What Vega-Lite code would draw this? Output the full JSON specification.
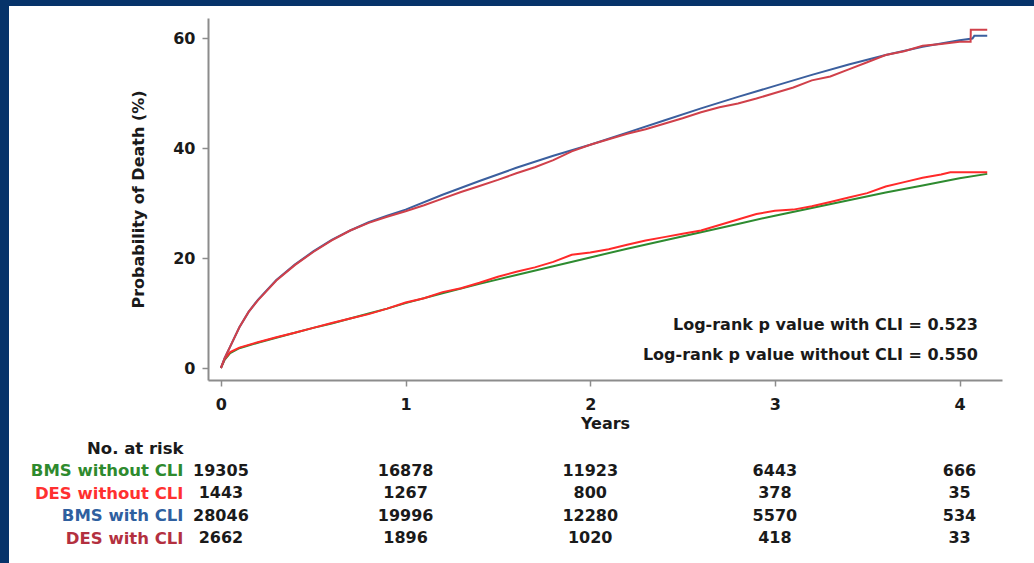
{
  "$schema": "https://vega.github.io/schema/vega-lite/v6.json",
  "background": "#06336a",
  "padding": {"left": 9, "top": 6, "right": 0, "bottom": 0},
  "autosize": {"type": "pad"},
  "bounds": "flush",
  "spacing": 57,
  "config": {"font": "DejaVu Sans", "view": {"stroke": null}},
  "datasets": {
    "curves": [
      {"group": "BMS without CLI", "years": 0, "pct": 0},
      {"group": "BMS without CLI", "years": 0.02, "pct": 1.5},
      {"group": "BMS without CLI", "years": 0.05, "pct": 2.7},
      {"group": "BMS without CLI", "years": 0.1, "pct": 3.6},
      {"group": "BMS without CLI", "years": 0.2, "pct": 4.6},
      {"group": "BMS without CLI", "years": 0.3, "pct": 5.5},
      {"group": "BMS without CLI", "years": 0.4, "pct": 6.4},
      {"group": "BMS without CLI", "years": 0.5, "pct": 7.3},
      {"group": "BMS without CLI", "years": 0.6, "pct": 8.1},
      {"group": "BMS without CLI", "years": 0.7, "pct": 9.0},
      {"group": "BMS without CLI", "years": 0.8, "pct": 9.9},
      {"group": "BMS without CLI", "years": 0.9, "pct": 10.8},
      {"group": "BMS without CLI", "years": 1.0, "pct": 11.8},
      {"group": "BMS without CLI", "years": 1.2, "pct": 13.6},
      {"group": "BMS without CLI", "years": 1.4, "pct": 15.3},
      {"group": "BMS without CLI", "years": 1.6, "pct": 16.9},
      {"group": "BMS without CLI", "years": 1.8, "pct": 18.5},
      {"group": "BMS without CLI", "years": 2.0, "pct": 20.1},
      {"group": "BMS without CLI", "years": 2.2, "pct": 21.7},
      {"group": "BMS without CLI", "years": 2.4, "pct": 23.2},
      {"group": "BMS without CLI", "years": 2.6, "pct": 24.7},
      {"group": "BMS without CLI", "years": 2.8, "pct": 26.2},
      {"group": "BMS without CLI", "years": 3.0, "pct": 27.7},
      {"group": "BMS without CLI", "years": 3.2, "pct": 29.1},
      {"group": "BMS without CLI", "years": 3.4, "pct": 30.5},
      {"group": "BMS without CLI", "years": 3.6, "pct": 31.9},
      {"group": "BMS without CLI", "years": 3.8, "pct": 33.2},
      {"group": "BMS without CLI", "years": 4.0, "pct": 34.5},
      {"group": "BMS without CLI", "years": 4.15, "pct": 35.3},
      {"group": "DES without CLI", "years": 0, "pct": 0},
      {"group": "DES without CLI", "years": 0.02, "pct": 1.6},
      {"group": "DES without CLI", "years": 0.05, "pct": 2.9},
      {"group": "DES without CLI", "years": 0.1, "pct": 3.7},
      {"group": "DES without CLI", "years": 0.2, "pct": 4.7},
      {"group": "DES without CLI", "years": 0.3, "pct": 5.6},
      {"group": "DES without CLI", "years": 0.4, "pct": 6.4},
      {"group": "DES without CLI", "years": 0.5, "pct": 7.3},
      {"group": "DES without CLI", "years": 0.6, "pct": 8.2},
      {"group": "DES without CLI", "years": 0.7, "pct": 9.0},
      {"group": "DES without CLI", "years": 0.8, "pct": 9.8},
      {"group": "DES without CLI", "years": 0.9, "pct": 10.8},
      {"group": "DES without CLI", "years": 1.0, "pct": 11.9},
      {"group": "DES without CLI", "years": 1.1, "pct": 12.7},
      {"group": "DES without CLI", "years": 1.2, "pct": 13.8},
      {"group": "DES without CLI", "years": 1.3, "pct": 14.5},
      {"group": "DES without CLI", "years": 1.4, "pct": 15.5},
      {"group": "DES without CLI", "years": 1.5, "pct": 16.6},
      {"group": "DES without CLI", "years": 1.6, "pct": 17.5},
      {"group": "DES without CLI", "years": 1.7, "pct": 18.3},
      {"group": "DES without CLI", "years": 1.8, "pct": 19.3},
      {"group": "DES without CLI", "years": 1.9, "pct": 20.6},
      {"group": "DES without CLI", "years": 2.0, "pct": 21.0},
      {"group": "DES without CLI", "years": 2.1, "pct": 21.6},
      {"group": "DES without CLI", "years": 2.2, "pct": 22.4},
      {"group": "DES without CLI", "years": 2.3, "pct": 23.2},
      {"group": "DES without CLI", "years": 2.4, "pct": 23.8},
      {"group": "DES without CLI", "years": 2.5, "pct": 24.4},
      {"group": "DES without CLI", "years": 2.6, "pct": 25.0},
      {"group": "DES without CLI", "years": 2.7, "pct": 26.0},
      {"group": "DES without CLI", "years": 2.8, "pct": 27.0},
      {"group": "DES without CLI", "years": 2.9, "pct": 28.0},
      {"group": "DES without CLI", "years": 3.0, "pct": 28.6},
      {"group": "DES without CLI", "years": 3.1, "pct": 28.8},
      {"group": "DES without CLI", "years": 3.2, "pct": 29.4},
      {"group": "DES without CLI", "years": 3.3, "pct": 30.2},
      {"group": "DES without CLI", "years": 3.4, "pct": 31.0},
      {"group": "DES without CLI", "years": 3.5, "pct": 31.8},
      {"group": "DES without CLI", "years": 3.6, "pct": 33.0},
      {"group": "DES without CLI", "years": 3.7, "pct": 33.8},
      {"group": "DES without CLI", "years": 3.8, "pct": 34.6},
      {"group": "DES without CLI", "years": 3.9, "pct": 35.2},
      {"group": "DES without CLI", "years": 3.95, "pct": 35.6},
      {"group": "DES without CLI", "years": 4.15, "pct": 35.6},
      {"group": "BMS with CLI", "years": 0, "pct": 0},
      {"group": "BMS with CLI", "years": 0.02, "pct": 1.8},
      {"group": "BMS with CLI", "years": 0.05, "pct": 3.9},
      {"group": "BMS with CLI", "years": 0.1, "pct": 7.4},
      {"group": "BMS with CLI", "years": 0.15, "pct": 10.2},
      {"group": "BMS with CLI", "years": 0.2, "pct": 12.4},
      {"group": "BMS with CLI", "years": 0.3, "pct": 16.0},
      {"group": "BMS with CLI", "years": 0.4, "pct": 18.8},
      {"group": "BMS with CLI", "years": 0.5, "pct": 21.2},
      {"group": "BMS with CLI", "years": 0.6, "pct": 23.3},
      {"group": "BMS with CLI", "years": 0.7, "pct": 25.0},
      {"group": "BMS with CLI", "years": 0.8, "pct": 26.5},
      {"group": "BMS with CLI", "years": 0.9, "pct": 27.7},
      {"group": "BMS with CLI", "years": 1.0, "pct": 28.8},
      {"group": "BMS with CLI", "years": 1.2, "pct": 31.5},
      {"group": "BMS with CLI", "years": 1.4, "pct": 34.0},
      {"group": "BMS with CLI", "years": 1.6, "pct": 36.4},
      {"group": "BMS with CLI", "years": 1.8, "pct": 38.6},
      {"group": "BMS with CLI", "years": 2.0, "pct": 40.6},
      {"group": "BMS with CLI", "years": 2.2, "pct": 42.8},
      {"group": "BMS with CLI", "years": 2.4, "pct": 45.0},
      {"group": "BMS with CLI", "years": 2.6, "pct": 47.2},
      {"group": "BMS with CLI", "years": 2.8, "pct": 49.3},
      {"group": "BMS with CLI", "years": 3.0, "pct": 51.3},
      {"group": "BMS with CLI", "years": 3.2, "pct": 53.3},
      {"group": "BMS with CLI", "years": 3.4, "pct": 55.2},
      {"group": "BMS with CLI", "years": 3.6, "pct": 56.9},
      {"group": "BMS with CLI", "years": 3.8, "pct": 58.4},
      {"group": "BMS with CLI", "years": 4.0, "pct": 59.6},
      {"group": "BMS with CLI", "years": 4.07, "pct": 59.9},
      {"group": "BMS with CLI", "years": 4.08, "pct": 60.4},
      {"group": "BMS with CLI", "years": 4.15, "pct": 60.4},
      {"group": "DES with CLI", "years": 0, "pct": 0},
      {"group": "DES with CLI", "years": 0.02, "pct": 1.8},
      {"group": "DES with CLI", "years": 0.05, "pct": 3.9},
      {"group": "DES with CLI", "years": 0.1, "pct": 7.4},
      {"group": "DES with CLI", "years": 0.15, "pct": 10.2},
      {"group": "DES with CLI", "years": 0.2, "pct": 12.3},
      {"group": "DES with CLI", "years": 0.3, "pct": 15.9},
      {"group": "DES with CLI", "years": 0.4, "pct": 18.7},
      {"group": "DES with CLI", "years": 0.5, "pct": 21.1},
      {"group": "DES with CLI", "years": 0.6, "pct": 23.2},
      {"group": "DES with CLI", "years": 0.7, "pct": 25.0},
      {"group": "DES with CLI", "years": 0.8, "pct": 26.4},
      {"group": "DES with CLI", "years": 0.9, "pct": 27.5},
      {"group": "DES with CLI", "years": 1.0, "pct": 28.5},
      {"group": "DES with CLI", "years": 1.1, "pct": 29.6},
      {"group": "DES with CLI", "years": 1.2, "pct": 30.8},
      {"group": "DES with CLI", "years": 1.3, "pct": 32.0},
      {"group": "DES with CLI", "years": 1.4, "pct": 33.1},
      {"group": "DES with CLI", "years": 1.5, "pct": 34.2},
      {"group": "DES with CLI", "years": 1.6, "pct": 35.4},
      {"group": "DES with CLI", "years": 1.7, "pct": 36.5},
      {"group": "DES with CLI", "years": 1.8, "pct": 37.8},
      {"group": "DES with CLI", "years": 1.9, "pct": 39.4},
      {"group": "DES with CLI", "years": 2.0, "pct": 40.6},
      {"group": "DES with CLI", "years": 2.1, "pct": 41.6},
      {"group": "DES with CLI", "years": 2.2, "pct": 42.6},
      {"group": "DES with CLI", "years": 2.3, "pct": 43.4},
      {"group": "DES with CLI", "years": 2.4, "pct": 44.4},
      {"group": "DES with CLI", "years": 2.5, "pct": 45.4},
      {"group": "DES with CLI", "years": 2.6, "pct": 46.5},
      {"group": "DES with CLI", "years": 2.7, "pct": 47.4},
      {"group": "DES with CLI", "years": 2.8, "pct": 48.1},
      {"group": "DES with CLI", "years": 2.9, "pct": 49.0},
      {"group": "DES with CLI", "years": 3.0, "pct": 50.0},
      {"group": "DES with CLI", "years": 3.1, "pct": 51.0},
      {"group": "DES with CLI", "years": 3.2, "pct": 52.3},
      {"group": "DES with CLI", "years": 3.3, "pct": 53.0},
      {"group": "DES with CLI", "years": 3.4, "pct": 54.3},
      {"group": "DES with CLI", "years": 3.5, "pct": 55.6},
      {"group": "DES with CLI", "years": 3.6, "pct": 56.9},
      {"group": "DES with CLI", "years": 3.7, "pct": 57.6},
      {"group": "DES with CLI", "years": 3.8, "pct": 58.6},
      {"group": "DES with CLI", "years": 3.9, "pct": 58.9},
      {"group": "DES with CLI", "years": 4.0, "pct": 59.3},
      {"group": "DES with CLI", "years": 4.06, "pct": 59.3},
      {"group": "DES with CLI", "years": 4.061, "pct": 61.5},
      {"group": "DES with CLI", "years": 4.15, "pct": 61.5}
    ],
    "risk": [
      {"group": "BMS without CLI", "year": 0, "n": 19305},
      {"group": "BMS without CLI", "year": 1, "n": 16878},
      {"group": "BMS without CLI", "year": 2, "n": 11923},
      {"group": "BMS without CLI", "year": 3, "n": 6443},
      {"group": "BMS without CLI", "year": 4, "n": 666},
      {"group": "DES without CLI", "year": 0, "n": 1443},
      {"group": "DES without CLI", "year": 1, "n": 1267},
      {"group": "DES without CLI", "year": 2, "n": 800},
      {"group": "DES without CLI", "year": 3, "n": 378},
      {"group": "DES without CLI", "year": 4, "n": 35},
      {"group": "BMS with CLI", "year": 0, "n": 28046},
      {"group": "BMS with CLI", "year": 1, "n": 19996},
      {"group": "BMS with CLI", "year": 2, "n": 12280},
      {"group": "BMS with CLI", "year": 3, "n": 5570},
      {"group": "BMS with CLI", "year": 4, "n": 534},
      {"group": "DES with CLI", "year": 0, "n": 2662},
      {"group": "DES with CLI", "year": 1, "n": 1896},
      {"group": "DES with CLI", "year": 2, "n": 1020},
      {"group": "DES with CLI", "year": 3, "n": 418},
      {"group": "DES with CLI", "year": 4, "n": 33}
    ]
  },
  "vconcat": [
    {
      "width": 794,
      "height": 362,
      "layer": [
        {
          "data": {"values": [{}]},
          "mark": {"type": "rect", "fill": "white", "clip": false},
          "encoding": {
            "x": {"datum": -1.1477, "type": "quantitative"},
            "x2": {"datum": 4.4033},
            "y": {"datum": 65.82, "type": "quantitative"},
            "y2": {"datum": -35.45}
          }
        },
        {
          "data": {"name": "curves"},
          "mark": {"type": "line", "strokeWidth": 2, "interpolate": "linear"},
          "encoding": {
            "x": {
              "field": "years", "type": "quantitative",
              "scale": {"domain": [-0.07, 4.23], "nice": false, "zero": false},
              "axis": {
                "values": [0, 1, 2, 3, 4], "format": "d", "title": "Years", "grid": false, "zindex": 1,
                "domainColor": "#8c8c8c", "domainWidth": 2, "tickColor": "#8c8c8c", "tickWidth": 1.5, "tickSize": 6,
                "labelFontSize": 16, "labelFontWeight": "bold", "labelColor": "#1a1a1a", "labelPadding": 10, "labelFlush": false,
                "titleFontSize": 16, "titleFontWeight": "bold", "titleColor": "#1a1a1a", "titlePadding": 3
              }
            },
            "y": {
              "field": "pct", "type": "quantitative",
              "scale": {"domain": [-2.18, 63.64], "nice": false, "zero": false},
              "axis": {
                "values": [0, 20, 40, 60], "format": "d", "title": "Probability of Death (%)", "grid": false, "zindex": 1,
                "domainColor": "#8c8c8c", "domainWidth": 2, "tickColor": "#8c8c8c", "tickWidth": 1.5, "tickSize": 6,
                "labelFontSize": 16, "labelFontWeight": "bold", "labelColor": "#1a1a1a", "labelPadding": 7, "labelFlush": false,
                "titleFontSize": 16, "titleFontWeight": "bold", "titleColor": "#1a1a1a", "titlePadding": 26
              }
            },
            "color": {
              "field": "group", "type": "nominal", "legend": null,
              "scale": {
                "domain": ["BMS without CLI", "DES without CLI", "BMS with CLI", "DES with CLI"],
                "range": ["#2e8b30", "#ff2a2a", "#3b5f9e", "#d0404a"]
              }
            }
          }
        },
        {
          "data": {"values": [{}]},
          "mark": {"type": "text", "text": "Log-rank p value with CLI = 0.523", "align": "right", "baseline": "middle", "fontSize": 16, "fontWeight": "bold", "color": "#1a1a1a"},
          "encoding": {"x": {"datum": 4.1}, "y": {"datum": 7.8}}
        },
        {
          "data": {"values": [{}]},
          "mark": {"type": "text", "text": "Log-rank p value without CLI = 0.550", "align": "right", "baseline": "middle", "fontSize": 16, "fontWeight": "bold", "color": "#1a1a1a"},
          "encoding": {"x": {"datum": 4.1}, "y": {"datum": 2.4}}
        }
      ]
    },
    {
      "width": 794,
      "height": 112.5,
      "data": {"name": "risk"},
      "mark": {"type": "text", "fontSize": 16, "fontWeight": "bold", "color": "#1a1a1a", "baseline": "middle"},
      "encoding": {
        "x": {"field": "year", "type": "quantitative", "scale": {"domain": [-0.07, 4.23], "nice": false, "zero": false}, "axis": null},
        "y": {
          "field": "group", "type": "nominal",
          "scale": {"type": "point", "padding": 0.5, "domain": ["No. at risk", "BMS without CLI", "DES without CLI", "BMS with CLI", "DES with CLI"]},
          "axis": {
            "title": null, "domain": false, "ticks": false, "tickSize": 0, "grid": false,
            "labelFontSize": 16.5, "labelFontWeight": "bold", "labelPadding": 25,
            "labelColor": {
              "condition": [
                {"test": "datum.value === 'BMS without CLI'", "value": "#2e8a2e"},
                {"test": "datum.value === 'DES without CLI'", "value": "#ff3030"},
                {"test": "datum.value === 'BMS with CLI'", "value": "#2f5f9f"},
                {"test": "datum.value === 'DES with CLI'", "value": "#b3303f"}
              ],
              "value": "#1a1a1a"
            }
          }
        },
        "text": {"field": "n", "type": "quantitative", "format": "d"}
      }
    }
  ]
}
